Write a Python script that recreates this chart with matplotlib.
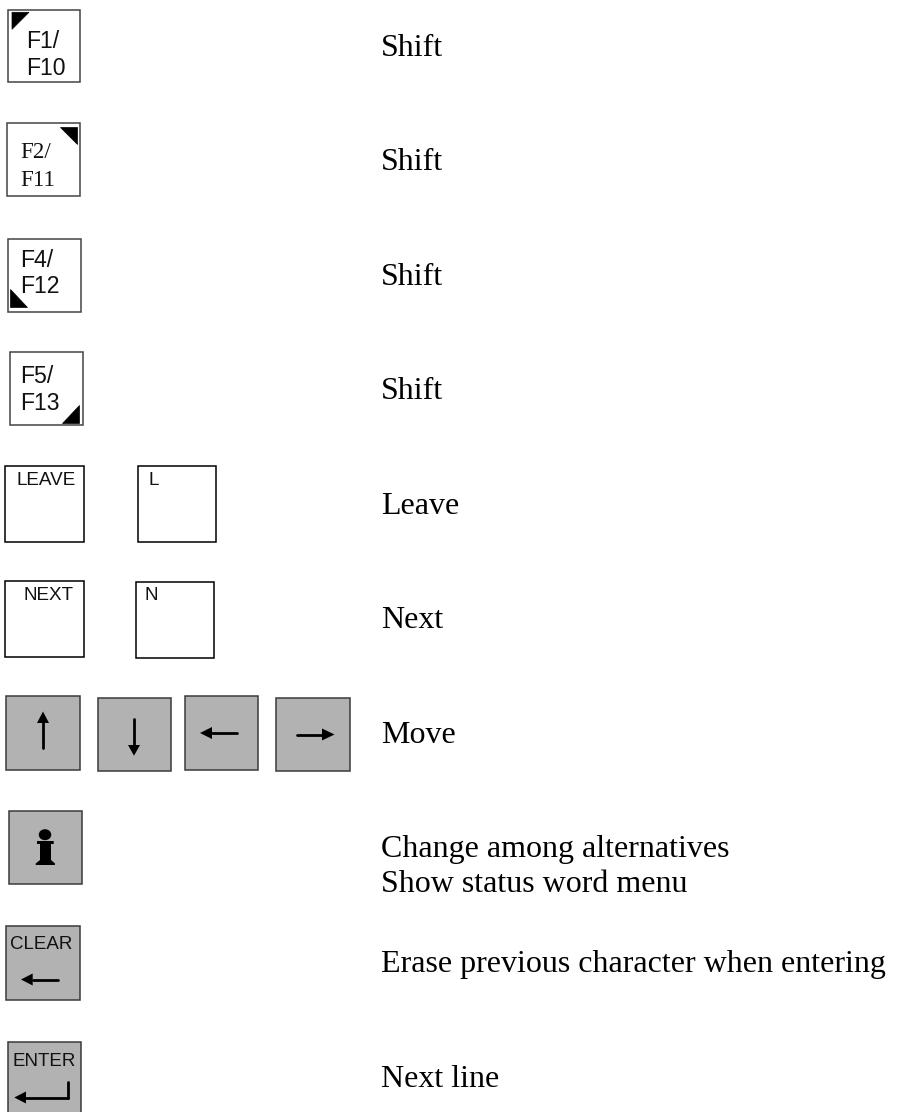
import matplotlib
matplotlib.use("Agg")
import matplotlib.pyplot as plt
from matplotlib.patches import Rectangle, Polygon, Ellipse

# ---- content ----
descriptions = ["Shift", "Shift", "Shift", "Shift", "Leave", "Next", "Move",
                "Change among alternatives", "Show status word menu",
                "Erase previous character when entering", "Next line"]
function_labels = [["F1/", "F10"], ["F2/", "F11"], ["F4/", "F12"], ["F5/", "F13"]]
white_key_labels = ["LEAVE", "L", "NEXT", "N"]
gray_key_labels = ["CLEAR", "ENTER"]

# ---- layout (pixel coordinates of the page) ----
W, H = 901, 1112
desc_x = 381
desc_baselines = [56, 170, 285, 399, 514, 628, 743, 856.7, 891.7, 972, 1086.7]

fn_boxes = [(8, 10, 72, 72), (6.5, 122.5, 73.5, 73.5), (7.5, 238.5, 73.5, 73.5), (9.5, 351.5, 73.5, 73.5)]
fn_text_x = [26, 20.7, 20, 20]
fn_text_y = [(48, 75), (158, 186), (266.7, 293.3), (382.7, 410)]
fn_fonts = ["Liberation Sans", "Liberation Serif", "Liberation Sans", "Liberation Sans"]
fn_corners = [[(12, 12.3), (29, 12.3), (12, 29.3)],
              [(60, 127), (77.3, 127), (77.3, 144)],
              [(10, 289.3), (10, 307), (27.3, 307)],
              [(61.7, 422.7), (79, 422.7), (79, 405.3)]]

white_boxes = [(5, 466, 78.5, 76), (137.5, 466, 78, 76), (5, 580.5, 78.5, 76), (135.5, 581.5, 78, 76)]
white_text = [(16.7, 485), (149, 485), (23.3, 600), (144.3, 600)]

gray_boxes = [(6, 696, 74, 74), (97.5, 697.5, 73.5, 73.5), (184.5, 696, 73.5, 74), (276, 697.5, 73.5, 73.5),
              (8.5, 810.5, 73.5, 73.5), (6, 926, 73.5, 73.5), (8, 1042, 73, 80)]
gray_text = [(10, 949), (13, 1066)]

# arrows: (tail x, tail y, head base x, head base y, tip x, tip y)
arrows = [(43, 748, 43, 723, 43, 711.5),
          (134, 719, 134, 745, 134, 755.7),
          (237, 733, 212, 733, 200, 733),
          (297, 734.5, 322, 734.5, 334.5, 734.5),
          (58, 979.5, 32.7, 979.5, 21, 979.5),
          (68, 1097.5, 26, 1097.5, 14.3, 1097.5)]

GRAY = "#b2b2b2"
fig = plt.figure(figsize=(W / 100, H / 100), dpi=100)
ax = fig.add_axes([0, 0, 1, 1])
ax.set_xlim(0, W)
ax.set_ylim(H, 0)
ax.axis("off")


def key(box, face="white", edge="#222222", lw=1.1):
    ax.add_patch(Rectangle(box[:2], box[2], box[3], facecolor=face, edgecolor=edge, linewidth=lw))


def label(x, y, s, size=16.6, family="Liberation Sans"):
    ax.text(x, y, s, fontsize=size, family=family, ha="left", va="baseline", color="#111111")


for box, xt, ys, lines, font, corner in zip(fn_boxes, fn_text_x, fn_text_y, function_labels, fn_fonts, fn_corners):
    key(box, edge="#444444")
    for y, s in zip(ys, lines):
        label(xt, y, s, family=font)
    ax.add_patch(Polygon(corner, closed=True, facecolor="black", edgecolor="black", linewidth=0.5))

for box, (x, y), s in zip(white_boxes, white_text, white_key_labels):
    key(box, edge="black")
    label(x, y, s, size=13.6)

for box in gray_boxes:
    key(box, face=GRAY, edge="#3a3a3a")
for (x, y), s in zip(gray_text, gray_key_labels):
    label(x, y, s, size=13.5)

for tx, ty, bx, by, px, py in arrows:
    ax.plot([tx, bx], [ty, by], color="black", lw=2, solid_capstyle="round")
    if tx == bx:
        head = [(px, py), (bx - 6, by), (bx + 6, by)]
    else:
        head = [(px, py), (bx, by - 6), (bx, by + 6)]
    ax.add_patch(Polygon(head, closed=True, facecolor="black", edgecolor="none"))
ax.plot([68, 68], [1097.5, 1082], color="black", lw=2, solid_capstyle="round")

# information key glyph
ax.add_patch(Ellipse((45, 834.7), 12.5, 11, facecolor="black", edgecolor="none"))
ax.add_patch(Polygon([(37, 841), (53.7, 841), (53.7, 844), (51, 844), (51, 860), (55, 863.5), (55, 865),
                      (35.7, 865), (35.7, 863.5), (40, 860), (40, 844), (37, 844)],
                     closed=True, facecolor="black", edgecolor="none"))

for y, s in zip(desc_baselines, descriptions):
    ax.text(desc_x, y, s, fontsize=23, family="Liberation Serif", ha="left", va="baseline", color="black")

fig.savefig("out.png", dpi=100)
